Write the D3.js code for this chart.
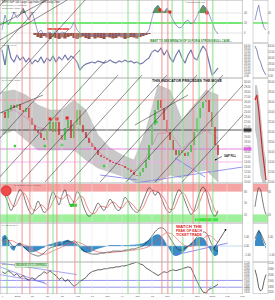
<!DOCTYPE html>
<html>
<head>
<meta charset="utf-8">
<style>
  body { margin: 0; background: #fff; }
  svg { display: block; font-family: "Liberation Sans", Arial, sans-serif; }
</style>
<script src="https://cdn.jsdelivr.net/npm/d3@7"></script>
</head>
<body>
<div id="chart"></div>
<script>
const width = 275;
const height = 300;
const plotRight = 243;

// main price (close per step)
const closes = [24.0,22.8,24.4,25.4,24.8,25.6,24.4,24.0,24.8,22.8,
  21.4,20.4,19.8,18.8,18.4,20.4,22.0,20.0,22.0,19.4,
  18.4,20.8,22.4,18.8,21.4,24.4,21.4,20.0,18.8,17.8,
  17.0,16.4,15.4,15.0,14.8,14.4,14.0,13.8,13.6,13.4,
  13.2,12.8,12.4,12.0,11.4,11.2,12.0,12.8,14.4,17.4,
  21.4,24.4,26.4,24.8,22.4,20.0,18.4,16.4,15.4,16.4,
  15.8,15.2,16.0,17.4,20.0,22.8,24.8,26.0,26.4,24.0,
  21.0,17.4,15.4];

// bollinger band, sampled every 4 steps
const bandIdx = [0,4,8,12,16,20,24,28,32,36,40,44,48,52,56,60,64,68,72];
const bandUpper = [28.0,28.4,27.4,25.4,24.4,24.4,26.4,24.4,19.4,16.8,15.4,14.4,20.4,29.4,28.4,22.4,25.4,28.4,27.4];
const bandLower = [19.4,20.4,18.4,16.4,16.4,16.4,16.4,14.4,12.8,12.0,11.2,10.0,9.4,10.0,11.4,10.8,12.0,12.4,10.0];

const priceLevels = [26.4, 20.4, 16.6, 14.0];
const levelColors = ["#f29a9a", "#333333", "#e066e0", "#f2a6f2"];

const redMarkIdx = [16, 18.3, 21.7];
const redMarkPrice = [22.6, 22.6, 22.8];
const greenMarkIdx = [4.3, 14.3, 20, 34, 51.5];
const greenMarkPrice = [17.2, 17.2, 17.4, 13.2, 22.0];

// top oscillator + bearish histogram
const topOsc = [6,36,16,26,42,30,36,50,36,26,42,22,0,6,-4,0,2,-4,6,-2,2,0,6,10,22,6,0,-4,
  -3,-5,-4,-6,-4,-3,-5,-4,-6,-5,-3,-4,-5,-4,-3,-5,-4,-3,-2,-3,-1,
  6,30,50,56,46,42,50,38,26,16,10,12,22,26,18,22,34,46,56,50,38,22,6,-2];
const bearHist = [0,0,0,0,0,0,0,0,0,0,0,
  -4,-8,-10,-6,-9,-12,-8,-10,-12,-9,-11,-8,-6,-10,-12,-9,-7,-10,-12,-8,
  -11,-9,-10,-12,-8,-9,-11,-10,-7,-9,-12,-10,-8,-9,-11,-8,-6,-4,-2,
  0,0,0,0,0,0,0,0,0,0,0,0,0,0,0,0,0,0,0,0,0,0,0];
const topMarkIdx = [52.7, 56, 68.3];
const topMarkVal = [46, 42, 40];

// second panel oscillator
const rsiLine = [56,26,66,40,32,46,36,42,32,40,28,36,32,42,30,40,34,44,32,42,
  36,46,36,44,40,32,16,24,28,30,32,30,34,32,30,32,36,32,30,34,
  32,36,32,34,30,32,28,30,36,40,52,56,52,60,46,56,40,32,46,56,
  40,30,46,56,40,36,52,64,56,32,6,12,20];

// stochastic
const stochK = [85,70,50,30,45,70,85,75,50,30,20,35,55,40,25,30,60,80,65,45,
  70,85,60,40,55,80,70,45,25,15,20,35,50,40,30,45,60,50,35,30,
  45,65,55,40,30,25,35,55,75,90,85,70,80,65,45,30,25,45,70,85,
  75,55,35,20,30,55,80,92,80,50,25,15,30];
const stochD = [80,78,68,50,40,50,67,77,70,52,35,30,37,45,40,32,38,55,68,63,
  60,67,72,62,52,58,68,65,47,30,22,23,35,42,40,38,48,52,48,38,
  37,47,55,50,42,32,30,38,55,73,83,82,78,72,63,47,33,33,47,67,
  77,72,55,37,28,35,55,75,84,74,52,30,23];

// macd
const macdLine = [0.56,0.89,0.67,0.22,-0.11,0.11,0.33,0,-0.33,-0.67,
  -0.89,-1.0,-1.11,-1.0,-0.78,-0.44,-0.22,-0.11,0,0.11,
  0.22,0.44,0.56,0.44,0.56,0.33,-0.11,-0.44,-0.67,-0.78,
  -0.89,-0.89,-0.89,-0.78,-0.78,-0.67,-0.67,-0.56,-0.56,-0.56,
  -0.56,-0.44,-0.44,-0.33,-0.33,-0.22,-0.11,0,0.33,0.67,
  1.11,1.56,1.89,2.0,1.89,1.44,0.89,0.33,-0.11,-0.44,
  -0.44,-0.22,0,0.22,0.56,1.0,1.33,1.56,1.44,0.89,0.11,-0.44,-0.56];
const macdSignal = [0.4,0.5,0.6,0.6,0.5,0.3,0.2,0.15,0.05,-0.1,
  -0.3,-0.5,-0.7,-0.85,-0.9,-0.85,-0.7,-0.55,-0.4,-0.25,
  -0.1,0.05,0.2,0.3,0.4,0.45,0.35,0.2,0,-0.2,
  -0.4,-0.55,-0.65,-0.7,-0.75,-0.75,-0.72,-0.7,-0.66,-0.63,
  -0.6,-0.57,-0.53,-0.48,-0.44,-0.4,-0.34,-0.27,-0.18,-0.05,
  0.15,0.4,0.7,1.0,1.3,1.45,1.4,1.2,0.9,0.55,
  0.25,0.05,-0.05,-0.05,0.05,0.25,0.5,0.8,1.05,1.15,1.0,0.7,0.35];
const macdHist = [1.0,1.2,0.8,-0.3,-0.5,0.2,0.3,-0.1,-0.4,-0.6,
  -0.7,-0.6,-0.5,-0.3,-0.2,0.1,0.2,0.3,0.4,0.5,
  0.5,0.6,0.7,0.5,0.4,0.2,-0.3,-0.6,-0.7,-0.7,
  -0.6,-0.4,-0.3,-0.2,-0.1,0,0.1,0.1,0.1,0.1,
  0.05,0.1,0.1,0.15,0.15,0.2,0.25,0.3,0.5,0.7,
  1.0,1.2,1.3,1.1,0.7,0.1,-0.5,-1.0,-1.1,-1.0,
  -0.8,-0.5,-0.1,0.3,0.6,0.9,1.0,0.9,0.5,-0.2,-0.8,-1.1,-0.9];

// index line in bottom panel
const spxLine = [2030,2010,2040,2020,1990,2010,1970,1990,1960,1940,
  1970,1950,1980,2000,2030,2010,2040,2010,1990,1950,
  1970,1930,1950,1910,1880,1900,1930,1950,1970,2010,
  2030,2040,2050,2050,2060,2060,2070,2070,2080,2080,
  2090,2090,2100,2110,2120,2130,2110,2100,2070,2050,
  2030,2010,1990,2010,2030,2020,2040,2050,2040,2050,
  2060,2070,2080,2070,2000,1930,1870,1820,1810,1850,1860,1880,1900];
const spxLevels = [1940, 1870];

// signal days
const greenDays = [1.7, 17, 26, 42, 45.7, 56.7, 60.3, 65.7, 70.3];
const redDays = [6.7, 9.3, 15.3, 18.3, 24.3, 53.3, 55.3, 63.7, 68.3];

// trend channel lines [idxA, priceA, idxB, priceB]
const channelLines = [
  [-54, 10, 1, 46.4], [-40.7, 10, 14.3, 46.4], [-27.3, 10, 27.7, 46.4],
  [-14, 10, 26, 36.4], [-2.3, 10, 34.7, 34.4], [6.3, 10, 38.7, 31.4],
  [14.3, 10, 46.7, 31.4], [22.7, 10, 55, 31.4], [32.7, 10, 65, 31.4],
  [41.3, 10, 73.7, 31.4], [51, 10, 83.3, 31.4], [60, 10, 92.3, 31.4],
  [-0.67, 41.4, 15, 46.4], [-0.67, 38.4, 21.7, 46.4],
  [-0.67, 23.8, 13.7, 27.4], [44.3, 21.4, 62, 27.4]
];
const priceTrend = [[44.3, 9.8, 80.3, 13.0], [57.7, 14.8, 67.7, 11.0], [32.7, 11.4, 45.3, 10.4]];
const macdTrend = [[57.7, -0.99, 75.3, 0.33]];
const spxTrend = [[-0.67, 2120, 25, 2000], [-0.67, 2080, 15, 1900], [-0.67, 2000, 14.3, 1920]];

const dateTicks = [0, 5, 10, 15, 20, 25, 30, 35, 40, 45, 50, 55, 60, 65, 70, 75, 80];
const dateLabels = ["9", "2015", "23", "Jul", "20", "Aug", "17", "Sep", "14", "Oct", "12", "Nov", "9", "Dec", "2016", "Feb", "Mar"];

// small zoomed chart on the right
const miniClose = [26.4, 27.4, 24.4, 20.4, 16.4, 13.4, 10.4];
const miniUpper = [29.4, 29.4, 27.4, 24.4, 20.4, 16.4, 14.4];
const miniLower = [20.4, 18.4, 14.4, 11.4, 10, 9.4, 9.4];
const miniTop = [26, 42, 56, 36, 22, 10, 6];
const miniRsi = [64, 56, 40, 32, 20, 12, 6];
const miniStoch = [40, 70, 90, 85, 60, 35, 20];
const miniHist = [0.5, 1.2, 1.8, 1.5, 0.8, 0.2, -0.3];
const miniMacd = [0.8, 1.3, 1.6, 1.4, 1.0, 0.5, 0.1];
const miniSpx = [2050, 1980, 1870, 1830, 1850, 1940, 2000];

const svg = d3.select("#chart").append("svg")
  .attr("width", width).attr("height", height);
svg.append("rect").attr("width", width).attr("height", height).attr("fill", "#fff");

const x = d3.scaleLinear().domain([0, 80.33]).range([2, plotRight]);
const xMini = d3.scaleLinear().domain([0, 6]).range([255, 266]);

const yTop = d3.scaleLinear().domain([-20, 60]).range([43, 3]);
const yRsi = d3.scaleLinear().domain([0, 68]).range([78, 44]);
const yPrice = d3.scaleLinear().domain([10, 30.8]).range([182, 78]);
const yStoch = d3.scaleLinear().domain([0, 100]).range([222, 184]);
const yMacd = d3.scaleLinear().domain([-2.2, 2.2]).range([266, 226]);
const ySpx = d3.scaleLinear().domain([1800, 2130]).range([294, 262]);

const panels = [[0, 43], [43, 78], [78, 183], [183, 223], [223, 262], [262, 294]];

const defs = svg.append("defs");
panels.forEach(([t, b], k) => {
  defs.append("clipPath").attr("id", "clip" + k)
    .append("rect").attr("x", 0).attr("y", t).attr("width", plotRight).attr("height", b - t);
  defs.append("clipPath").attr("id", "mclip" + k)
    .append("rect").attr("x", 253).attr("y", t).attr("width", 15).attr("height", b - t);
});
defs.append("clipPath").attr("id", "clipDiag")
  .append("rect").attr("x", 0).attr("y", 0).attr("width", plotRight).attr("height", 182);
defs.append("marker").attr("id", "arrow").attr("viewBox", "0 0 6 6")
  .attr("refX", 5).attr("refY", 3).attr("markerWidth", 4).attr("markerHeight", 4)
  .attr("orient", "auto")
  .append("path").attr("d", "M0,0L6,3L0,6Z").attr("fill", "#000");

const panelG = panels.map((p, k) => svg.append("g").attr("clip-path", `url(#clip${k})`));
const miniG = panels.map((p, k) => svg.append("g").attr("clip-path", `url(#mclip${k})`));

// stochastic zones
[panelG[3], miniG[3]].forEach((g) => {
  g.append("rect").attr("x", 0).attr("width", width).attr("y", yStoch(100)).attr("height", yStoch(80) - yStoch(100)).attr("fill", "#f6a3a3");
  g.append("rect").attr("x", 0).attr("width", width).attr("y", yStoch(20)).attr("height", yStoch(0) - yStoch(20)).attr("fill", "#9ef09a");
});

// vertical grid
dateTicks.forEach((t) => {
  svg.append("line").attr("x1", x(t)).attr("x2", x(t)).attr("y1", 0).attr("y2", 294)
    .attr("stroke", "#e6e6e6").attr("stroke-width", 0.5);
});

// signal day lines
greenDays.forEach((d) => {
  svg.append("line").attr("x1", x(d)).attr("x2", x(d)).attr("y1", 0).attr("y2", 294)
    .attr("stroke", "#7fdc7f").attr("stroke-width", 0.9);
});
redDays.forEach((d) => {
  svg.append("line").attr("x1", x(d)).attr("x2", x(d)).attr("y1", 0).attr("y2", 294)
    .attr("stroke", "#f28a8a").attr("stroke-width", 0.9);
});

// panel frames
panels.forEach(([t, b]) => {
  svg.append("rect").attr("x", 0.25).attr("y", t + 0.25).attr("width", plotRight - 0.5).attr("height", b - t - 0.5)
    .attr("fill", "none").attr("stroke", "#b0b0b0").attr("stroke-width", 0.5);
  svg.append("rect").attr("x", 253).attr("y", t + 0.25).attr("width", 15).attr("height", b - t - 0.5)
    .attr("fill", "none").attr("stroke", "#b0b0b0").attr("stroke-width", 0.5);
});

const idxLine = (yScale, xs = x) => d3.line().x((d, i) => xs(i)).y((d) => yScale(d));

// ---- panel 1: top oscillator
const g1 = panelG[0];
[40, 0].forEach((v) => g1.append("line").attr("x1", 0).attr("x2", plotRight).attr("y1", yTop(v)).attr("y2", yTop(v)).attr("stroke", "#c8c8c8").attr("stroke-width", 0.5));
g1.selectAll("rect.bear").data(bearHist).join("rect")
  .attr("x", (d, i) => x(i) - 1.6).attr("width", 3.2)
  .attr("y", yTop(0)).attr("height", (d) => yTop(d) - yTop(0))
  .attr("fill", "#9a5548");
g1.append("path").datum(topOsc)
  .attr("d", d3.area().x((d, i) => x(i)).y0(yTop(40)).y1((d) => yTop(Math.max(d, 40))))
  .attr("fill", "#5a9a5a");
g1.append("line").attr("x1", 0).attr("x2", plotRight).attr("y1", yTop(20)).attr("y2", yTop(20))
  .attr("stroke", "#44e044").attr("stroke-width", 1.6);
g1.append("path").datum(topOsc).attr("d", idxLine(yTop)).attr("fill", "none")
  .attr("stroke", "#6a70b8").attr("stroke-width", 0.7);
g1.append("line").attr("x1", x(15)).attr("x2", x(22.3)).attr("y1", yTop(8)).attr("y2", yTop(8))
  .attr("stroke", "#f03a3a").attr("stroke-width", 1.6);
g1.selectAll("rect.mark").data(topMarkIdx).join("rect")
  .attr("x", (d) => x(d) - 1.5).attr("y", (d, i) => yTop(topMarkVal[i]) - 1.5)
  .attr("width", 3).attr("height", 3).attr("fill", "#e82020");

// ---- panel 2: oscillator line
const g2 = panelG[1];
g2.append("path").datum(rsiLine).attr("d", idxLine(yRsi)).attr("fill", "none")
  .attr("stroke", "#c0c0d8").attr("stroke-width", 1.4);
g2.append("path").datum(rsiLine).attr("d", idxLine(yRsi)).attr("fill", "none")
  .attr("stroke", "#4c5596").attr("stroke-width", 0.7);

// ---- panel 3: price
const g3 = panelG[2];
const bandArea = d3.area().x((d) => x(d)).y0((d, i) => yPrice(bandLower[i])).y1((d, i) => yPrice(bandUpper[i]));
g3.append("path").datum(bandIdx).attr("d", bandArea).attr("fill", "#c8c8c8").attr("stroke", "#a8a8a8").attr("stroke-width", 0.4);
g3.append("path").datum(bandIdx)
  .attr("d", d3.line().x((d) => x(d)).y((d, i) => yPrice((bandUpper[i] + bandLower[i]) / 2)))
  .attr("fill", "none").attr("stroke", "#d06a9a").attr("stroke-width", 0.5);
priceLevels.forEach((p, k) => {
  g3.append("line").attr("x1", 0).attr("x2", plotRight).attr("y1", yPrice(p)).attr("y2", yPrice(p))
    .attr("stroke", levelColors[k]).attr("stroke-width", k === 0 ? 1.2 : 0.8);
});
const candles = closes.map((c, i) => ({ i, open: i ? closes[i - 1] : c, close: c }));
g3.selectAll("rect.candle").data(candles).join("rect")
  .attr("x", (d) => x(d.i) - 0.7)
  .attr("width", 1.4)
  .attr("y", (d) => yPrice(Math.max(d.open, d.close)))
  .attr("height", (d) => Math.max(1, Math.abs(yPrice(d.open) - yPrice(d.close))))
  .attr("fill", (d) => (d.close >= d.open ? "#2fbf2f" : "#cf2a2a"));
g3.selectAll("rect.rmark").data(redMarkIdx).join("rect")
  .attr("x", (d) => x(d) - 1.5).attr("y", (d, i) => yPrice(redMarkPrice[i]) - 1.5)
  .attr("width", 3).attr("height", 3).attr("fill", "#e82020");
g3.selectAll("rect.gmark").data(greenMarkIdx).join("rect")
  .attr("x", (d) => x(d) - 1.2).attr("y", (d, i) => yPrice(greenMarkPrice[i]) - 1.2)
  .attr("width", 2.4).attr("height", 2.4).attr("fill", "#3ad23a");
priceTrend.forEach(([a, pa, b, pb]) => {
  g3.append("line").attr("x1", x(a)).attr("y1", yPrice(pa)).attr("x2", x(b)).attr("y2", yPrice(pb))
    .attr("stroke", "#7a7af0").attr("stroke-width", 0.8);
});

// channel lines across the upper panels
const diag = svg.append("g").attr("clip-path", "url(#clipDiag)");
channelLines.forEach(([a, pa, b, pb]) => {
  diag.append("line").attr("x1", x(a)).attr("y1", yPrice(pa)).attr("x2", x(b)).attr("y2", yPrice(pb))
    .attr("stroke", "#222").attr("stroke-width", 0.5);
});

// ---- panel 4: stochastic
const g4 = panelG[3];
g4.append("path").datum(stochD).attr("d", idxLine(yStoch).curve(d3.curveMonotoneX)).attr("fill", "none")
  .attr("stroke", "#e03030").attr("stroke-width", 0.6);
g4.append("path").datum(stochK).attr("d", idxLine(yStoch).curve(d3.curveMonotoneX)).attr("fill", "none")
  .attr("stroke", "#222").attr("stroke-width", 0.6);
g4.append("rect").attr("x", x(22.7)).attr("y", yStoch(48)).attr("width", x(25) - x(22.7)).attr("height", 3).attr("fill", "#20d020");
g4.append("rect").attr("x", x(64.3)).attr("y", yStoch(10)).attr("width", x(72) - x(64.3)).attr("height", 3).attr("fill", "#3fe83f");
svg.append("circle").attr("cx", x(1.4)).attr("cy", yStoch(82)).attr("r", 5)
  .attr("fill", "#ee4a4a").attr("stroke", "#c82020").attr("stroke-width", 0.6);

// ---- panel 5: macd
const g5 = panelG[4];
g5.append("path").datum(macdHist)
  .attr("d", d3.area().x((d, i) => x(i)).y0(yMacd(0)).y1((d) => yMacd(d)).curve(d3.curveMonotoneX))
  .attr("fill", "#3a8cc6");
g5.append("line").attr("x1", 0).attr("x2", plotRight).attr("y1", yMacd(0)).attr("y2", yMacd(0))
  .attr("stroke", "#9cc8ec").attr("stroke-width", 0.6);
g5.append("path").datum(macdSignal).attr("d", idxLine(yMacd).curve(d3.curveMonotoneX)).attr("fill", "none")
  .attr("stroke", "#e05050").attr("stroke-width", 0.6);
g5.append("path").datum(macdLine).attr("d", idxLine(yMacd).curve(d3.curveMonotoneX)).attr("fill", "none")
  .attr("stroke", "#222").attr("stroke-width", 0.6);
macdTrend.forEach(([a, va, b, vb]) => {
  g5.append("line").attr("x1", x(a)).attr("y1", yMacd(va)).attr("x2", x(b)).attr("y2", yMacd(vb))
    .attr("stroke", "#7070ee").attr("stroke-width", 0.8);
});
g5.append("line").attr("x1", x(70.3)).attr("y1", yMacd(-0.44)).attr("x2", x(74.7)).attr("y2", yMacd(1.87))
  .attr("stroke", "#000").attr("stroke-width", 0.6).attr("marker-end", "url(#arrow)");

// ---- panel 6: index
const g6 = panelG[5];
spxLevels.forEach((v) => g6.append("line").attr("x1", 0).attr("x2", plotRight).attr("y1", ySpx(v)).attr("y2", ySpx(v))
  .attr("stroke", "#7a7af0").attr("stroke-width", 0.8));
spxTrend.forEach(([a, va, b, vb]) => {
  g6.append("line").attr("x1", x(a)).attr("y1", ySpx(va)).attr("x2", x(b)).attr("y2", ySpx(vb))
    .attr("stroke", "#7a7af0").attr("stroke-width", 0.7);
});
g6.append("path").datum(spxLine).attr("d", idxLine(ySpx)).attr("fill", "none")
  .attr("stroke", "#222").attr("stroke-width", 0.7);

// ---- mini chart
miniG[0].append("line").attr("x1", 253).attr("x2", 268).attr("y1", yTop(20)).attr("y2", yTop(20)).attr("stroke", "#44e044").attr("stroke-width", 1.2);
miniG[0].append("path").datum(miniTop).attr("d", idxLine(yTop, xMini)).attr("fill", "none").attr("stroke", "#6a70b8").attr("stroke-width", 0.7);
miniG[1].append("path").datum(miniRsi).attr("d", idxLine(yRsi, xMini)).attr("fill", "none").attr("stroke", "#4c5596").attr("stroke-width", 0.7);
miniG[2].append("path").datum(miniClose)
  .attr("d", d3.area().x((d, i) => xMini(i)).y0((d, i) => yPrice(miniLower[i])).y1((d, i) => yPrice(miniUpper[i])))
  .attr("fill", "#c8c8c8");
miniG[2].append("path").datum(miniClose).attr("d", idxLine(yPrice, xMini)).attr("fill", "none").attr("stroke", "#cf2a2a").attr("stroke-width", 1.2);
miniG[3].append("path").datum(miniStoch).attr("d", idxLine(yStoch, xMini).curve(d3.curveMonotoneX)).attr("fill", "none").attr("stroke", "#222").attr("stroke-width", 0.6);
miniG[4].append("path").datum(miniHist)
  .attr("d", d3.area().x((d, i) => xMini(i)).y0(yMacd(0)).y1((d) => yMacd(d)).curve(d3.curveMonotoneX))
  .attr("fill", "#3a8cc6");
miniG[4].append("path").datum(miniMacd).attr("d", idxLine(yMacd, xMini).curve(d3.curveMonotoneX)).attr("fill", "none").attr("stroke", "#222").attr("stroke-width", 0.6);
miniG[5].append("path").datum(miniSpx).attr("d", idxLine(ySpx, xMini)).attr("fill", "none").attr("stroke", "#222").attr("stroke-width", 0.7);

// ---- axes
function tinyAxis(g) {
  g.select(".domain").remove();
  g.selectAll(".tick line").remove();
  g.selectAll("text").attr("font-size", 2.6).attr("fill", "#555").attr("x", 1);
}
const axes = [
  [yTop, [0, 20, 40], d3.format("d")],
  [yRsi, d3.range(4, 68, 6), d3.format(".2f")],
  [yPrice, d3.range(10, 31, 1), d3.format(".2f")],
  [yStoch, [20, 50, 80], d3.format("d")],
  [yMacd, [-1, 0, 1], d3.format(".2f")],
  [ySpx, d3.range(1820, 2130, 30), d3.format("d")]
];
axes.forEach(([sc, vals, f]) => {
  svg.append("g").attr("transform", `translate(${plotRight},0)`)
    .call(d3.axisRight(sc).tickValues(vals).tickFormat(f)).call(tinyAxis);
  svg.append("g").attr("transform", "translate(267,0)")
    .call(d3.axisRight(sc).tickValues(vals.filter((v, i) => i % 2 === 0)).tickFormat(f)).call(tinyAxis);
});
svg.append("g").attr("transform", "translate(0,294)")
  .call(d3.axisBottom(x).tickValues(dateTicks).tickFormat((d, i) => dateLabels[i]).tickSize(0))
  .call((g) => {
    g.select(".domain").remove();
    g.selectAll("text").attr("font-size", 2.5).attr("fill", "#444").attr("y", 0).attr("dy", 3);
  });

// level tags on the price axis
priceLevels.slice(1, 3).forEach((p, k) => {
  svg.append("rect").attr("x", plotRight + 0.5).attr("y", yPrice(p) - 1.6).attr("width", 8).attr("height", 3.2)
    .attr("fill", levelColors[k + 1]);
});

// ---- notes
const note = (tx, ty, str, size, color, len) => {
  const t = svg.append("text").attr("x", tx).attr("y", ty).attr("font-size", size)
    .attr("font-weight", "bold").attr("fill", color).text(str);
  if (len) t.attr("textLength", len).attr("lengthAdjust", "spacingAndGlyphs");
  return t;
};
svg.append("text").attr("x", 2).attr("y", 3).attr("font-size", 2.6).attr("fill", "#333")
  .text("$SPX S&P 500 Large Cap Index  INDX  Daily Chart");
svg.append("text").attr("x", 2).attr("y", 6).attr("font-size", 2.3).attr("fill", "#666").text("PPO(12,26,9) Histogram");
svg.append("text").attr("x", 2).attr("y", 8.5).attr("font-size", 2.3).attr("fill", "#666").text("Seasonality Chart");
svg.append("text").attr("x", 185).attr("y", 3).attr("font-size", 2.3).attr("fill", "#666").text("© StockCharts.com");
svg.append("text").attr("x", 2).attr("y", 46).attr("font-size", 2.3).attr("fill", "#666").text("RSI(14) 45.91");
svg.append("text").attr("x", 2).attr("y", 81).attr("font-size", 2.3).attr("fill", "#666").text("$VIX (Daily) 20.59");
svg.append("text").attr("x", 14).attr("y", 186).attr("font-size", 2.3).attr("fill", "#666").text("Slow Stoch %K(14) %D(3)");
svg.append("text").attr("x", 2).attr("y", 226).attr("font-size", 2.3).attr("fill", "#666").text("MACD(12,26,9)");
svg.append("text").attr("x", 2).attr("y", 265).attr("font-size", 2.3).attr("fill", "#666").text("$SPX 1917.78");

note(150, 41.5, "WANT TO SEE BREACH OF 50 FOR A STRONG BULL CASE...", 3.4, "#2d8a2d", 82);
note(152, 82, "THIS INDICATOR PRECEDES THE MOVE", 4, "#111", 70);
note(224, 156.5, "GAP FILL", 3.2, "#111", 12);
svg.append("line").attr("x1", x(73.3)).attr("y1", yPrice(15.1)).attr("x2", x(71)).attr("y2", yPrice(14.4))
  .attr("stroke", "#000").attr("stroke-width", 0.5).attr("marker-end", "url(#arrow)");

svg.append("rect").attr("x", 175).attr("y", 224).attr("width", 28).attr("height", 12.5).attr("fill", "#fff");
["WATCH THE", "PEAK OF EACH", "TICKET TRADE"].forEach((s, k) => note(176, 227.5 + k * 4, s, 3.3, "#e02020", 26));

svg.append("rect").attr("x", 15).attr("y", 263.5).attr("width", 33).attr("height", 3.6)
  .attr("fill", "#dff5df").attr("stroke", "#3aa03a").attr("stroke-width", 0.3);
svg.append("text").attr("x", 16).attr("y", 266.3).attr("font-size", 2.6).attr("font-weight", "bold")
  .attr("fill", "#2a8a2a").attr("textLength", 31).attr("lengthAdjust", "spacingAndGlyphs")
  .text("NEED ABOVE 2100 TO CONFIRM BULL");
</script>
</body>
</html>
